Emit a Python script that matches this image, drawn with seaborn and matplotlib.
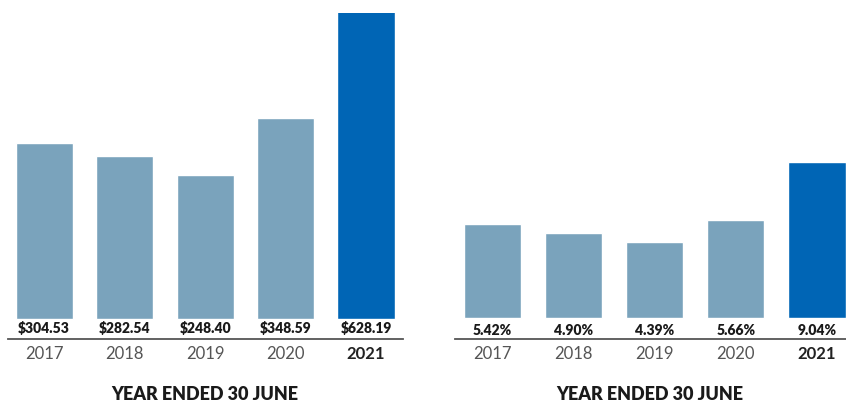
import seaborn as sns
import matplotlib.pyplot as plt
import pandas as pd

years = ['2017', '2018', '2019', '2020', '2021']
eps = [304.53, 282.54, 248.40, 348.59, 628.19]
eps_labels = ['$304.53', '$282.54', '$248.40', '$348.59', '$628.19']
yields = [5.42, 4.90, 4.39, 5.66, 9.04]
yield_labels = ['5.42%', '4.90%', '4.39%', '5.66%', '9.04%']

light = '#7aa3bc'
dark = '#0065b5'
palette = {y: (dark if y == '2021' else light) for y in years}

sns.set_theme(style='white')
plt.rcParams['font.family'] = ['Lato', 'DejaVu Sans']

fig = plt.figure(figsize=(8.46, 4.03), dpi=100)
ax1 = fig.add_axes([8 / 846, 64 / 403, 395 / 846, 326 / 403])
ax2 = fig.add_axes([455 / 846, 64 / 403, 391 / 846, 326 / 403])


def draw(ax, vals, labels, ylim, label_y, xlim):
    df = pd.DataFrame({'year': years, 'val': vals})
    sns.barplot(data=df, x='year', y='val', hue='year', palette=palette,
                legend=False, width=0.71, saturation=1, ax=ax)
    ax.set_ylim(*ylim)
    ax.set_xlim(*xlim)
    for i, lab in enumerate(labels):
        ax.text(i, label_y, lab, ha='center', va='center', fontsize=10,
                fontweight='heavy', color='#1a1a1a')
    for s in ['top', 'left', 'right']:
        ax.spines[s].set_visible(False)
    ax.spines['bottom'].set_color('#555555')
    ax.spines['bottom'].set_linewidth(1.3)
    ax.set_yticks([])
    ax.set_ylabel('')
    ax.set_xlabel('')
    ax.set_xticks(range(5))
    ax.set_xticklabels(years, fontsize=12, color='#555555')
    ax.tick_params(axis='x', length=0, pad=5)
    tl = ax.get_xticklabels()[-1]
    tl.set_fontweight('bold')
    tl.set_color('#222222')


draw(ax1, eps, eps_labels, (-35, 530), -16, (-0.45, 4.46))
draw(ax2, yields, yield_labels, (-1.24, 17.7), -0.76, (-0.46, 4.36))

for xc in (205, 650):
    fig.text(xc / 846, 8 / 403, 'YEAR ENDED 30 JUNE', ha='center', va='center',
             fontsize=13, fontweight='heavy', color='#1a1a1a')

fig.savefig('out.png', dpi=100)
